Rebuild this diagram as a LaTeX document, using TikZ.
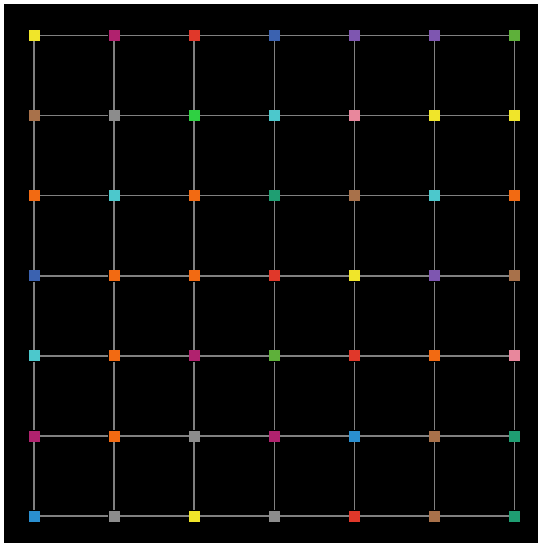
\documentclass[tikz,border=0pt]{standalone}
\usetikzlibrary{backgrounds}
\definecolor{cY}{HTML}{F0E52A}
\definecolor{cM}{HTML}{B0226E}
\definecolor{cR}{HTML}{E0382A}
\definecolor{cB}{HTML}{3B62B0}
\definecolor{cP}{HTML}{7E56B0}
\definecolor{cG}{HTML}{5EB03A}
\definecolor{cN}{HTML}{A8714A}
\definecolor{cA}{HTML}{8C8C8C}
\definecolor{cL}{HTML}{2FD042}
\definecolor{cC}{HTML}{4CC8CC}
\definecolor{cK}{HTML}{E8879C}
\definecolor{cO}{HTML}{F26A12}
\definecolor{cT}{HTML}{1F9E72}
\definecolor{cS}{HTML}{2A8FD0}
\definecolor{edgegray}{HTML}{808080}
\tikzset{
  sq/.style={rectangle, minimum size=11pt, inner sep=0pt, draw=none, fill=#1},
  link/.style={draw=edgegray, line width=1.6pt}
}
\begin{document}
\begin{tikzpicture}[x=1pt,y=-1pt]
\useasboundingbox (0,0) rectangle (539,545);
\def\rowcolors{%
 {cY,cM,cR,cB,cP,cP,cG},%
 {cN,cA,cL,cC,cK,cY,cY},%
 {cO,cC,cO,cT,cN,cC,cO},%
 {cB,cO,cO,cR,cY,cP,cN},%
 {cC,cO,cM,cG,cR,cO,cK},%
 {cM,cO,cA,cM,cS,cN,cT},%
 {cS,cA,cY,cA,cR,cN,cT}}
\foreach \row [count=\r from 0] in \rowcolors {
  \foreach \col [count=\c from 0] in \row {
    \node[sq=\col] (n-\r-\c) at ({34+80.1*\c},{35.5+80.1*\r}) {};
  }
}
\begin{scope}[on background layer]
  \fill[black] (4,4) rectangle (537.5,542.5);
  \foreach \r in {0,...,6} {
    \foreach \c [evaluate=\c as \cn using int(\c+1)] in {0,...,5} {
      \draw[link] (n-\r-\c) -- (n-\r-\cn);
    }
  }
  \foreach \c in {0,...,6} {
    \foreach \r [evaluate=\r as \rn using int(\r+1)] in {0,...,5} {
      \draw[link] (n-\r-\c) -- (n-\rn-\c);
    }
  }
\end{scope}
\end{tikzpicture}
\end{document}
